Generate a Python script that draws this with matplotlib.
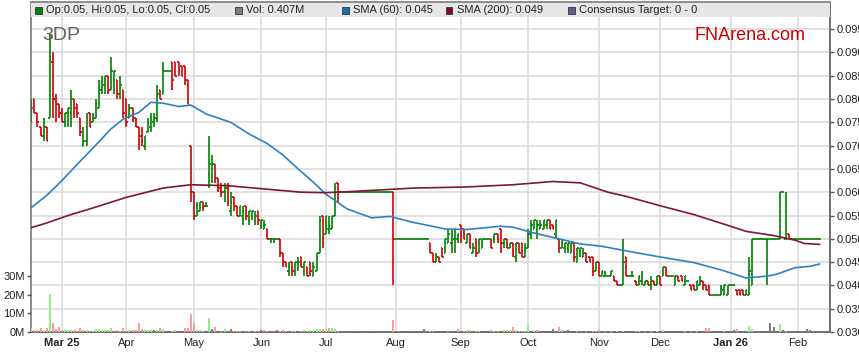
import numpy as np
import pandas as pd
import matplotlib
matplotlib.use("Agg")
import matplotlib.pyplot as plt
from matplotlib.patches import Rectangle

plt.rcParams['font.family'] = ['Liberation Sans', 'DejaVu Sans']

# daily bars from 17 Feb 2025, prices in tenths of a cent
start_day = '2025-02-17'

opn = [78, 80, 77, 74, 72, 74, 76, 88, 80, 79,
       77, 75, 77, 77, 80, 79, 76, 70, 71, 77,
       75, 76, 78, 82, 83, 85, 82, 84, 84, 81,
       82, 80, 76, 78, 76, 74, 72, 70, 73, 74,
       75, 76, 82, 81, 86, 86, 88, 88, 88, 87,
       87, 84, 70, 60, 55, 56, 58, 57, 64, 65,
       66, 63, 61, 60, 61, 56, 59, 57, 55, 55,
       57, 54, 55, 54, 56, 53, 52, 52, 50, 50,
       50, 50, 47, 45, 43, 45, 43, 44, 46, 44,
       44, 45, 42, 43, 47, 55, 51, 52, 52, 55,
       62, 60, 60, 60, 60, 60, 60, 60, 60, 60,
       60, 60, 60, 60, 60, 60, 60, 60, 60, 50,
       50, 50, 50, 50, 50, 50, 50, 50, 50, 50,
       49, 47, 45, 46, 48, 47, 49, 49, 50, 50,
       53, 52, 49, 51, 47, 50, 47, 48, 50, 50,
       50, 50, 51, 52, 49, 50, 48, 49, 46, 49,
       49, 46, 48, 51, 52, 52, 52, 52, 53, 54,
       53, 51, 50, 48, 48, 48, 47, 49, 45, 47,
       46, 47, 46, 46, 43, 45, 42, 42, 42, 42,
       42, 41, 40, 40, 46, 42, 42, 41, 40, 41,
       40, 41, 40, 41, 40, 42, 42, 44, 42, 42,
       40, 42, 42, 40, 41, 40, 40, 39, 40, 41,
       40, 40, 38, 38, 38, 38, 38, 38, 40, 40,
       39, 39, 39, 38, 38, 40, 50, 50, 50, 50,
       50, 50, 50, 50, 50, 60, 50, 51, 50, 50,
       50, 50, 50, 50, 50, 50, 50, 50]

high = [80, 80, 77, 74, 76, 74, 94, 90, 81, 79,
        78, 77, 78, 82, 80, 79, 76, 74, 77, 77,
        77, 80, 84, 85, 85, 85, 89, 86, 84, 85,
        82, 80, 79, 78, 76, 74, 74, 72, 76, 77,
        77, 83, 82, 88, 86, 86, 88, 88, 88, 87,
        87, 84, 70, 60, 58, 58, 58, 58, 72, 68,
        66, 63, 62, 62, 62, 60, 59, 57, 57, 57,
        57, 56, 56, 56, 56, 54, 54, 52, 50, 50,
        50, 50, 47, 45, 45, 45, 45, 46, 46, 45,
        44, 45, 45, 47, 55, 55, 55, 55, 55, 62,
        62, 60, 60, 60, 60, 60, 60, 60, 60, 60,
        60, 60, 60, 60, 60, 60, 60, 60, 60, 50,
        50, 50, 50, 50, 50, 50, 50, 50, 50, 50,
        49, 47, 47, 46, 48, 50, 52, 52, 52, 51,
        53, 52, 51, 51, 49, 50, 50, 50, 50, 50,
        50, 51, 51, 52, 50, 50, 49, 49, 49, 49,
        49, 49, 52, 54, 54, 54, 54, 54, 54, 54,
        53, 54, 50, 50, 49, 49, 49, 49, 48, 48,
        48, 47, 46, 46, 45, 45, 43, 43, 42, 43,
        42, 41, 40, 50, 46, 42, 43, 41, 42, 43,
        41, 41, 42, 41, 42, 42, 44, 44, 42, 42,
        42, 42, 42, 42, 41, 40, 40, 41, 42, 41,
        40, 40, 38, 38, 38, 40, 40, 40, 40, 40,
        39, 39, 39, 39, 46, 50, 50, 50, 50, 50,
        50, 50, 50, 50, 60, 60, 60, 51, 50, 50,
        50, 50, 50, 50, 50, 50, 50, 50]

low = [75, 77, 74, 72, 71, 71, 76, 76, 75, 76,
       75, 74, 74, 74, 76, 76, 72, 70, 70, 74,
       75, 76, 78, 81, 81, 81, 82, 81, 80, 80,
       76, 74, 76, 75, 74, 69, 70, 69, 73, 73,
       74, 75, 80, 81, 86, 86, 82, 85, 85, 85,
       83, 79, 58, 54, 55, 56, 56, 57, 61, 62,
       62, 60, 59, 58, 57, 55, 56, 55, 55, 53,
       54, 53, 54, 53, 53, 52, 52, 50, 49, 49,
       50, 46, 44, 44, 42, 42, 42, 43, 44, 42,
       42, 42, 42, 43, 47, 48, 51, 51, 52, 55,
       58, 60, 60, 60, 60, 60, 60, 60, 60, 60,
       60, 60, 60, 60, 60, 60, 60, 60, 40, 50,
       50, 50, 50, 50, 50, 50, 50, 50, 50, 50,
       47, 45, 45, 45, 46, 47, 49, 47, 47, 49,
       49, 50, 49, 48, 47, 46, 47, 48, 50, 50,
       48, 49, 49, 47, 48, 48, 48, 46, 45, 47,
       46, 46, 48, 50, 52, 50, 52, 52, 52, 52,
       52, 50, 47, 48, 47, 47, 47, 45, 45, 46,
       46, 45, 45, 42, 43, 42, 42, 42, 42, 42,
       41, 40, 40, 40, 42, 42, 42, 40, 40, 40,
       40, 40, 39, 40, 40, 40, 42, 42, 42, 42,
       40, 41, 41, 40, 41, 39, 39, 39, 40, 39,
       39, 38, 38, 38, 38, 38, 38, 38, 40, 40,
       38, 38, 38, 38, 38, 40, 50, 50, 50, 50,
       40, 50, 50, 50, 50, 60, 50, 50, 50, 50,
       50, 50, 50, 50, 50, 50, 50, 50]

close = [78, 77, 75, 72, 74, 71, 89, 80, 79, 77,
         75, 77, 78, 80, 78, 77, 73, 71, 76, 74,
         76, 79, 82, 84, 85, 82, 86, 86, 81, 83,
         77, 75, 78, 76, 74, 72, 71, 72, 75, 76,
         76, 81, 80, 86, 86, 86, 84, 85, 86, 85,
         84, 79, 60, 55, 57, 58, 57, 57, 66, 66,
         63, 61, 60, 61, 58, 58, 57, 55, 57, 56,
         55, 56, 56, 55, 54, 54, 53, 50, 50, 50,
         50, 47, 45, 44, 44, 43, 45, 45, 44, 45,
         42, 43, 44, 47, 54, 49, 55, 53, 55, 61,
         60, 60, 60, 60, 60, 60, 60, 60, 60, 60,
         60, 60, 60, 60, 60, 60, 60, 60, 50, 50,
         50, 50, 50, 50, 50, 50, 50, 50, 50, 50,
         47, 45, 46, 45, 46, 50, 51, 51, 52, 51,
         51, 50, 51, 48, 48, 47, 50, 50, 50, 50,
         48, 51, 50, 49, 50, 48, 49, 47, 49, 47,
         46, 48, 51, 53, 54, 53, 53, 54, 54, 52,
         52, 54, 48, 49, 49, 49, 49, 46, 48, 48,
         47, 45, 45, 43, 45, 42, 43, 42, 42, 43,
         41, 40, 40, 45, 42, 42, 42, 40, 42, 42,
         41, 40, 41, 40, 42, 40, 44, 42, 42, 42,
         42, 41, 41, 42, 41, 39, 39, 41, 41, 40,
         39, 38, 38, 38, 38, 39, 40, 40, 40, 40,
         38, 38, 38, 39, 43, 50, 50, 50, 50, 50,
         50, 50, 50, 50, 60, 60, 50, 50, 50, 50,
         50, 50, 50, 50, 50, 50, 50, 50]

# volume, millions of shares
volume = [2.1, 1.3, 0.9, 2.1, 1.3, 2.1, 20.5, 4.8, 1.6, 2.7,
          1.3, 1.3, 1.3, 1.3, 1.3, 0.7, 2.1, 0.9, 1.3, 0.7,
          0.7, 1.6, 1.6, 1.3, 1.3, 1.3, 2.1, 0.4, 1.3, 0.7,
          2.1, 0.4, 1.3, 1.3, 1.3, 4.8, 1.6, 0.9, 1.3, 1.3,
          0.9, 1.3, 2.1, 1.6, 0.2, 0.2, 0.5, 1.3, 0.2, 0.2,
          2.1, 2.1, 9.8, 4.8, 1.3, 1.3, 0.7, 0.2, 7.5, 1.6,
          2.7, 0.2, 0.7, 1.6, 0.2, 1.6, 0.7, 0.7, 0.7, 0.2,
          0.7, 0.4, 0.7, 0.7, 0.7, 1.3, 1.3, 0.7, 0.7, 0.3,
          1.3, 0.7, 1.3, 0.7, 0.7, 0.7, 0.3, 0.7, 0.7, 1.3,
          0.7, 1.3, 1.3, 1.6, 1.6, 1.6, 1.6, 2.1, 2.1, 1.6,
          0.7, 0.5, 0.7, 0.5, 0.7, 0.5, 0.7, 0.7, 0.5, 0.7,
          0.7, 0.5, 0.7, 0.7, 0.5, 0.7, 0.7, 0.5, 6.3, 0.7,
          0.7, 0.5, 0.7, 0.7, 0.5, 0.7, 0.7, 0.5, 1.6, 0.7,
          0.7, 0.7, 0.1, 0.1, 0.1, 0.1, 1.3, 0.7, 0.1, 1.6,
          0.7, 0.7, 1.3, 0.9, 0.7, 0.7, 0.7, 0.1, 0.1, 0.1,
          1.3, 0.7, 0.7, 0.2, 1.3, 1.3, 1.3, 2.7, 1.3, 0.7,
          0.7, 0.7, 3.4, 0.2, 1.3, 1.3, 0.7, 0.1, 0.1, 0.1,
          1.6, 0.2, 2.7, 1.3, 0.7, 0.9, 0.7, 0.2, 0.7, 0.7,
          0.2, 0.7, 0.7, 0.7, 0.7, 1.3, 0.2, 0.7, 0.2, 0.7,
          0.2, 0.7, 0.2, 0.7, 0.2, 0.7, 0.2, 0.7, 0.7, 0.2,
          0.7, 0.2, 0.7, 0.2, 0.7, 0.2, 1.3, 0.1, 0.1, 0.1,
          0.1, 0.1, 0.7, 0.7, 0.2, 0.7, 0.2, 0.7, 0.1, 0.2,
          2.1, 2.1, 0.7, 0.1, 0.1, 0.2, 0.7, 0.1, 0.1, 1.3,
          1.8, 0.2, 0.7, 0.2, 3.4, 1.6, 0.7, 0.7, 0.2, 0.7,
          0.2, 4.8, 2.5, 0.2, 4.1, 1.3, 0.7, 0.7, 0.7, 0.7,
          0.2, 0.7, 0.7, 1.6, 1.3, 0.7, 0.7, 0.3]

# moving averages (bar number, tenths of a cent)
sma60_day = [0, 5, 10, 15, 20, 26, 30, 35, 39, 43, 48, 52, 57, 65, 71, 77, 82,
             87, 92, 96, 103, 111, 117, 124, 135, 142, 153, 157, 163, 168, 172,
             179, 186, 194, 205, 216, 225, 233, 240, 243, 249, 254, 257]
sma60 = [56.7, 59.3, 62.5, 66.0, 69.4, 73.6, 75.7, 77.1, 79.3, 79.1, 78.4, 78.7,
         76.8, 75.0, 72.5, 70.4, 68.0, 65.0, 62.1, 59.6, 56.4, 54.5, 54.8, 53.6,
         52.1, 52.0, 52.7, 52.5, 51.4, 50.6, 50.0, 48.9, 48.4, 47.4, 46.1, 44.9,
         43.3, 41.6, 42.0, 42.4, 43.8, 44.1, 44.6]

sma200_day = [0, 5, 12, 20, 31, 43, 52, 64, 76, 88, 96, 103, 114, 125, 141, 157,
              170, 179, 188, 194, 205, 216, 227, 233, 242, 249, 252, 257]
sma200 = [52.4, 53.4, 55.0, 56.6, 58.9, 60.9, 61.6, 61.4, 60.7, 60.0, 59.9, 60.1,
          60.5, 60.9, 61.1, 61.6, 62.3, 62.0, 60.0, 59.1, 57.1, 55.2, 52.9, 51.6,
          50.7, 49.7, 49.0, 48.8]

o = np.array(opn) / 1000
h = np.array(high) / 1000
l = np.array(low) / 1000
c = np.array(close) / 1000
vol = np.array(volume)
x = np.arange(len(c))
dates = pd.bdate_range(start_day, periods=len(c))

W, H = 859, 363
fig = plt.figure(figsize=(W / 100, H / 100), dpi=100)
ax = fig.add_axes([31 / W, 31 / H, 799 / W, 330 / H])
axv = ax.twinx()

# month ticks at the first bar of each month
month_pos = [i for i in range(1, len(dates)) if dates[i].month != dates[i - 1].month]
month_lab = []
for k, i in enumerate(month_pos):
    d = dates[i]
    month_lab.append(d.strftime('%b %y') if (k == 0 or d.month == 1) else d.strftime('%b'))

ax.set_xlim(-0.1, 260.4)
ax.set_ylim(0.030, 0.10082)
ax.set_xticks(month_pos)
ax.set_xticklabels(month_lab, fontsize=8, color='#222222')
for t in ax.get_xticklabels():
    if ' ' in t.get_text():
        t.set_fontweight('bold')
ax.tick_params(axis='x', length=0, pad=4)
ax.set_yticks(np.arange(0.030, 0.0951, 0.005))
ax.yaxis.tick_right()
ax.yaxis.set_major_formatter(plt.FormatStrFormatter('%.3f'))
ax.tick_params(axis='y', labelsize=8, length=3, width=1, pad=1.5,
               color='#555555', labelcolor='#222222')
ax.grid(True, color='#d9d9d9', lw=1.1)
ax.set_axisbelow(True)

green, red = '#008000', '#d00000'
col = np.where(c >= o, green, red)
ax.vlines(x, l, h, colors=col, lw=1.2, zorder=3)
ax.hlines(o, x - 0.5, x, colors=col, lw=1.2, zorder=3)
ax.hlines(c, x, x + 0.5, colors=col, lw=1.2, zorder=3)

ax.plot(sma60_day, np.array(sma60) / 1000, color='#2f80c3', lw=1.2, zorder=4)
ax.plot(sma200_day, np.array(sma200) / 1000, color='#7f1734', lw=1.2, zorder=4)

# volume on the left scale
prev = np.r_[c[0] - 1, c[:-1]]
vcol = np.where(c > prev, '#8ff08a', np.where(c < prev, '#ff9a9a', '#7f7f7f'))
axv.bar(x, vol, width=0.65, color=vcol, zorder=2)
axv.set_ylim(0, 178)
axv.set_yticks([0, 10, 20, 30])
axv.set_yticklabels(['0M', '10M', '20M', '30M'])
axv.yaxis.tick_left()
axv.tick_params(axis='y', labelsize=8, length=3, width=1, pad=1.5,
                color='#555555', labelcolor='#222222')
for s in axv.spines.values():
    s.set_visible(False)

for side, colr in [('left', '#8c8c8c'), ('top', '#8c8c8c'),
                   ('right', '#6e6e6e'), ('bottom', '#6e6e6e')]:
    ax.spines[side].set_color(colr)
    ax.spines[side].set_linewidth(1.4)

# legend strip along the top
fig.add_artist(Rectangle((31.5 / W, 1 - 17 / H), 798 / W, 14 / H,
                         transform=fig.transFigure, facecolor='#e6e6e6',
                         edgecolor='none', zorder=5))
items = [(35, '#008000', 'Op:0.05, Hi:0.05, Lo:0.05, Cl:0.05'),
         (235, '#7f7f7f', 'Vol: 0.407M'),
         (342, '#1f6fae', 'SMA (60): 0.045'),
         (446, '#7b0d2a', 'SMA (200): 0.049'),
         (568, '#5b5b8f', 'Consensus Target: 0 - 0')]
for px, sq, txt in items:
    fig.add_artist(Rectangle((px / W, 1 - 13.5 / H), 6.5 / W, 6.5 / H,
                             transform=fig.transFigure, facecolor=sq,
                             edgecolor='#333333', lw=0.6, zorder=6))
    fig.text((px + 11) / W, 1 - 10 / H, txt, fontsize=8, color='#222222',
             va='center', ha='left', zorder=7)

fig.text(42 / W, 1 - 40.5 / H, '3DP', fontsize=14, color='#606060',
         ha='left', va='baseline', zorder=7)
fig.text(695 / W, 1 - 39.5 / H, 'FNArena.com', fontsize=13, color='#cc0000',
         ha='left', va='baseline', zorder=7)

fig.savefig('out.png', dpi=100)
